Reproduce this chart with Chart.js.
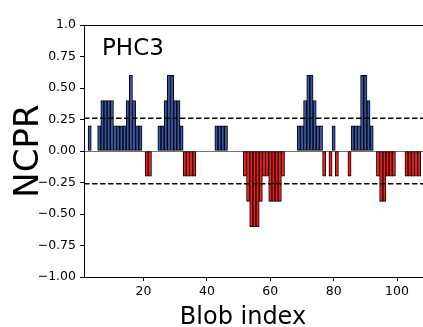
<!DOCTYPE html>
<html>
<head>
<meta charset="utf-8">
<script src="https://cdn.jsdelivr.net/npm/chart.js@4.4.1/dist/chart.umd.min.js"></script>
<style>
  html, body { margin: 0; padding: 0; background: #fff; }
  #wrap { width: 423px; height: 327px; }
</style>
</head>
<body>
<div id="wrap"><canvas id="ncprChart" width="423" height="327"></canvas></div>
<script>
// NCPR per blob, blob index 1..107 (0 = no bar)
var ncpr = [
  0, 0, 0.2, 0, 0, 0.2, 0.4, 0.4, 0.4, 0.4,
  0.2, 0.2, 0.2, 0.2, 0.4, 0.6, 0.4, 0.2, 0.2, 0,
  -0.2, -0.2, 0, 0, 0.2, 0.2, 0.4, 0.6, 0.6, 0.4,
  0.4, 0.2, -0.2, -0.2, -0.2, -0.2, 0, 0, 0, 0,
  0, 0, 0.2, 0.2, 0.2, 0.2, 0, 0, 0, 0,
  0, -0.2, -0.4, -0.6, -0.6, -0.6, -0.4, -0.2, -0.2, -0.4,
  -0.4, -0.4, -0.4, -0.2, 0, 0, 0, 0, 0.2, 0.2,
  0.4, 0.6, 0.6, 0.4, 0.2, 0.2, -0.2, 0, -0.2, 0.2,
  -0.2, 0, 0, 0, -0.2, 0.2, 0.2, 0.2, 0.6, 0.6,
  0.4, 0.2, 0, -0.2, -0.4, -0.4, -0.2, -0.2, -0.2, 0,
  0, 0, -0.2, -0.2, -0.2, -0.2, -0.2
];
var blobIndex = ncpr.map(function(v, i) { return i + 1; });
var cutoffs = [0.26, -0.26];
var xTicks = [20, 40, 60, 80, 100];
var yTicks = [-1, -0.75, -0.5, -0.25, 0, 0.25, 0.5, 0.75, 1];
var label = 'PHC3';
var xTitle = 'Blob index';

var points = blobIndex.map(function(x, i) { return { x: x, y: ncpr[i] === 0 ? null : ncpr[i] }; });

var refLines = {
  id: 'refLines',
  beforeDatasetsDraw: function(chart) {
    var ctx = chart.ctx, a = chart.chartArea, y = chart.scales.y;
    ctx.save();
    ctx.strokeStyle = 'rgba(0,0,0,0.55)';
    ctx.lineWidth = 1;
    ctx.beginPath();
    ctx.moveTo(a.left, Math.round(y.getPixelForValue(0)) + 0.5);
    ctx.lineTo(a.right, Math.round(y.getPixelForValue(0)) + 0.5);
    ctx.stroke();
    ctx.restore();
  },
  afterDatasetsDraw: function(chart) {
    var ctx = chart.ctx, a = chart.chartArea, y = chart.scales.y;
    ctx.save();
    ctx.strokeStyle = '#000';
    ctx.lineWidth = 1.5;
    ctx.setLineDash([5.5, 2.5]);
    cutoffs.forEach(function(v) {
      var py = y.getPixelForValue(v);
      ctx.beginPath();
      ctx.moveTo(a.left, py);
      ctx.lineTo(a.right, py);
      ctx.stroke();
    });
    ctx.setLineDash([]);
    ctx.lineWidth = 1;
    ctx.strokeRect(a.left + 0.5, a.top + 0.5, a.right - a.left + 2, a.bottom - a.top);
    ctx.fillStyle = '#000';
    ctx.font = '23px "DejaVu Sans"';
    ctx.textBaseline = 'alphabetic';
    ctx.fillText(label, a.left + 18, a.top + 30);
    // x axis title
    ctx.font = '24px "DejaVu Sans"';
    ctx.textAlign = 'center';
    ctx.fillText(xTitle, 243, 324);
    ctx.restore();
  }
};

new Chart(document.getElementById('ncprChart'), {
  type: 'bar',
  data: {
    datasets: [{
      data: points,
      backgroundColor: function(c) { return c.raw && c.raw.y < 0 ? '#ff1a1a' : '#3657a8'; },
      borderColor: '#000',
      borderWidth: 1,
      borderSkipped: false,
      barPercentage: 1,
      categoryPercentage: 1
    }]
  },
  plugins: [refLines],
  options: {
    responsive: false,
    animation: false,
    layout: { padding: { top: 25, right: 0, left: 0, bottom: 0 } },
    plugins: { legend: { display: false }, tooltip: { enabled: false } },
    scales: {
      x: {
        type: 'linear',
        offset: false,
        min: 1.2,
        max: 108.2,
        afterBuildTicks: function(s) { s.ticks = xTicks.map(function(v) { return { value: v }; }); },
        afterFit: function(s) { s.height = 50; },
        grid: { drawOnChartArea: false, drawTicks: true, tickLength: 4, tickColor: '#000', offset: false },
        border: { display: true, color: '#000' },
        ticks: { color: '#000', padding: 3, maxRotation: 0, font: { family: 'DejaVu Sans', size: 12.5 } }
      },
      y: {
        min: -1,
        max: 1,
        afterBuildTicks: function(s) { s.ticks = yTicks.map(function(v) { return { value: v }; }); },
        afterFit: function(s) { s.width = 84; },
        grid: { drawOnChartArea: false, drawTicks: true, tickLength: 4, tickColor: '#000' },
        border: { display: true, color: '#000' },
        ticks: {
          color: '#000', padding: 4, font: { family: 'DejaVu Sans', size: 12.5 },
          callback: function(v) { return (v === 1 ? '1.0' : v.toFixed(2)).replace('-', '\u2212'); }
        },
        title: { display: true, text: 'NCPR', color: '#000', padding: { top: 9, bottom: 0 }, font: { family: 'DejaVu Sans', size: 34 } }
      }
    }
  }
});
</script>
</body>
</html>
